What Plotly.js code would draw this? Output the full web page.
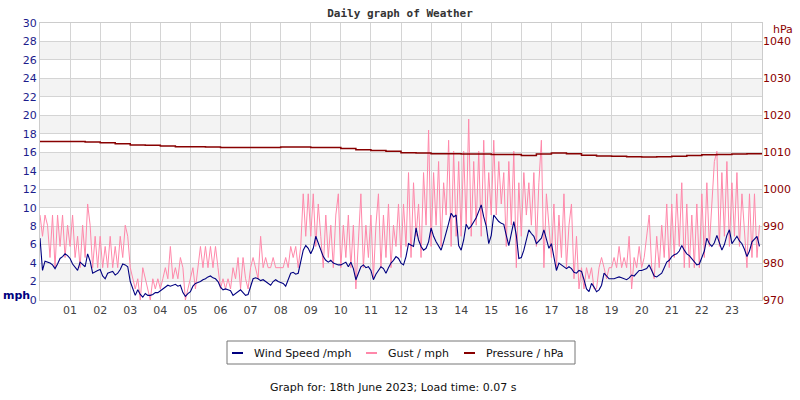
<!DOCTYPE html>
<html>
<head>
<meta charset="utf-8">
<script src="https://cdn.plot.ly/plotly-3.0.1.min.js"></script>
<style>
  body { margin: 0; background: #fff; }
  #chart { width: 800px; height: 400px; }
</style>
</head>
<body>
<div id="chart"></div>
<script>
// readings every 5 minutes, 12 per hour
const samplesPerHour = 12;

const windSpeed = [
  6.7, 3.2, 4.2, 4.1, 4.0, 3.8, 3.4, 3.9, 4.5, 4.7, 5.0, 4.8,
  4.5, 3.9, 3.6, 3.2, 4.1, 3.8, 3.6, 5.0, 4.2, 2.9, 3.1, 3.2,
  3.3, 2.6, 2.3, 2.9, 3.0, 3.1, 2.7, 2.9, 3.3, 3.9, 3.8, 3.6,
  2.0, 1.3, 0.5, 1.1, 0.6, 0.3, 0.7, 0.5, 0.5, 0.6, 0.8, 0.8,
  1.0, 1.1, 1.3, 1.6, 1.5, 1.6, 1.7, 1.5, 1.6, 0.8, 0.4, 0.7,
  0.9, 1.5, 1.8, 1.9, 2.0, 2.2, 2.3, 2.5, 2.6, 2.4, 2.3, 2.0,
  1.4, 1.1, 1.2, 1.1, 1.0, 0.5, 0.7, 0.9, 1.1, 0.8, 0.5, 0.6,
  1.6, 2.3, 2.4, 2.3, 2.1, 2.2, 2.0, 1.8, 1.6, 2.0, 2.2, 2.0,
  1.9, 1.8, 1.5, 2.2, 2.9, 3.0, 2.8, 2.9, 4.0, 5.4, 5.9, 5.6,
  5.0, 5.6, 6.9, 6.2, 5.4, 4.7, 4.3, 4.1, 4.3, 4.0, 3.9, 3.8,
  3.8, 4.0, 4.1, 3.6, 4.1, 3.4, 2.2, 2.9, 3.6, 3.8, 3.5, 3.6,
  3.2, 2.2, 2.8, 3.2, 3.6, 3.4, 2.9, 3.5, 4.0, 4.3, 4.7, 4.5,
  4.0, 3.8, 4.7, 6.1, 5.9, 5.8, 7.8, 6.5, 5.8, 5.4, 5.6, 6.3,
  7.8, 6.9, 6.3, 5.8, 5.4, 6.3, 7.2, 8.3, 9.4, 9.0, 9.2, 5.9,
  5.4, 6.5, 8.2, 7.7, 8.0, 8.5, 8.9, 9.6, 10.3, 9.0, 8.0, 6.1,
  7.0, 9.2, 8.8, 8.5, 8.3, 8.2, 7.0, 5.9, 7.2, 8.5, 7.0, 4.5,
  4.6, 5.4, 6.5, 7.6, 7.2, 6.9, 6.1, 6.4, 6.7, 7.6, 6.5, 5.6,
  6.1, 4.8, 3.2, 4.0, 3.8, 3.6, 3.4, 3.6, 3.4, 3.0, 2.9, 3.2,
  3.1, 2.2, 1.2, 0.9, 1.8, 1.4, 0.9, 1.1, 1.6, 2.9, 2.6, 2.3,
  2.3, 2.3, 2.4, 2.5, 2.4, 2.3, 2.2, 2.4, 2.7, 2.6, 2.9, 3.2,
  3.2, 3.3, 3.4, 3.8, 3.1, 2.6, 2.5, 2.7, 2.9, 3.5, 4.1, 4.3,
  4.7, 4.9, 5.0, 5.3, 5.9, 5.4, 5.0, 4.8, 4.5, 4.2, 3.8, 3.9,
  4.7, 5.3, 6.7, 6.1, 5.8, 6.2, 7.0, 6.2, 5.4, 6.0, 7.0, 7.6,
  6.1, 6.5, 6.9, 6.4, 6.1, 5.5, 4.7, 5.3, 6.3, 6.6, 6.9, 5.8
];

const gust = [
  9.2, 6.9, 9.2, 8.1, 4.6, 9.2, 3.5, 9.2, 5.8, 9.2, 4.6, 8.1,
  5.8, 9.2, 4.6, 6.9, 3.5, 8.1, 4.6, 10.4, 8.1, 3.5, 6.9, 3.5,
  6.9, 3.5, 5.8, 3.5, 6.9, 3.5, 5.8, 3.5, 6.9, 4.6, 8.1, 6.9,
  3.5, 2.3, 1.2, 2.3, 0.0, 3.5, 2.3, 1.2, 0.0, 2.3, 1.2, 2.3,
  1.2, 2.3, 3.5, 2.3, 5.8, 2.3, 3.5, 2.3, 4.6, 3.5, 0.0, 1.2,
  2.3, 3.5, 1.2, 3.5, 5.8, 3.5, 5.8, 3.5, 5.8, 3.5, 5.8, 3.5,
  1.2, 2.3, 1.2, 2.3, 1.2, 3.5, 2.3, 4.6, 1.2, 4.6, 2.3, 1.2,
  3.5, 4.6, 3.5, 2.3, 6.9, 3.5, 4.6, 3.5, 3.5, 4.6, 3.5, 3.5,
  3.5, 3.5, 4.6, 3.5, 5.8, 4.6, 5.8, 3.5, 5.8, 11.5, 6.9, 11.5,
  6.9, 11.5, 5.8, 10.4, 6.9, 3.5, 9.2, 4.6, 8.1, 3.5, 9.2, 11.5,
  3.5, 8.1, 4.6, 9.2, 3.5, 8.1, 1.2, 6.9, 11.5, 3.5, 8.1, 4.6,
  9.2, 2.3, 8.1, 11.5, 3.5, 9.2, 4.6, 10.4, 3.5, 8.1, 5.8, 10.4,
  4.6, 10.4, 5.8, 13.8, 4.6, 12.7, 6.9, 10.4, 4.6, 13.8, 8.1, 18.4,
  5.8, 13.8, 8.1, 15.0, 5.8, 12.7, 9.2, 17.3, 5.8, 16.1, 6.9, 15.0,
  6.9, 16.1, 8.1, 19.6, 6.9, 15.0, 8.1, 16.1, 6.9, 17.3, 8.1, 13.8,
  9.2, 17.3, 9.2, 15.0, 10.4, 13.8, 5.8, 15.0, 8.1, 16.1, 3.5, 12.7,
  6.9, 13.8, 9.2, 12.7, 8.1, 13.8, 5.8, 12.7, 17.3, 3.5, 11.5, 8.1,
  4.6, 10.4, 3.5, 9.2, 4.6, 11.5, 3.5, 8.1, 10.4, 2.3, 6.9, 1.2,
  3.5, 1.2, 3.5, 2.3, 3.5, 1.2, 1.2, 3.5, 4.6, 3.5, 2.3, 3.5,
  3.5, 4.6, 3.5, 5.8, 3.5, 4.6, 3.5, 6.9, 1.2, 4.6, 3.5, 5.8,
  3.5, 4.6, 6.9, 9.2, 3.5, 2.3, 6.9, 3.5, 8.1, 4.6, 10.4, 3.5,
  10.4, 4.6, 11.5, 5.8, 12.7, 3.5, 10.4, 3.5, 9.2, 3.5, 10.4, 3.5,
  11.5, 4.6, 12.7, 5.8, 10.4, 15.0, 16.1, 5.8, 13.8, 6.9, 15.0, 5.8,
  12.7, 6.9, 13.8, 5.8, 11.5, 6.9, 3.5, 11.5, 4.6, 11.5, 4.6, 8.1
];

// half-hourly pressure readings, 00:00 .. 24:00
const pressure = [
  1012.9, 1012.9, 1012.9, 1012.8, 1012.6, 1012.3, 1012.0, 1011.9,
  1011.7, 1011.5, 1011.5, 1011.4, 1011.3, 1011.3, 1011.3, 1011.3,
  1011.4, 1011.4, 1011.3, 1011.3, 1011.0, 1010.7, 1010.5, 1010.3,
  1009.9, 1009.8, 1009.6, 1009.6, 1009.5, 1009.5, 1009.4, 1009.4,
  1009.1, 1009.5, 1009.8, 1009.6, 1009.2, 1009.0, 1008.9, 1008.8,
  1008.7, 1008.8, 1008.9, 1009.1, 1009.3, 1009.4, 1009.5, 1009.6,
  1009.7
];

const hourTicks = [1,2,3,4,5,6,7,8,9,10,11,12,13,14,15,16,17,18,19,20,21,22,23];
const hourLabels = hourTicks.map(h => (h < 10 ? '0' : '') + h);
const mphTicks = [0,2,4,6,8,10,12,14,16,18,20,22,24,26,28,30];
const hpaTicks = [970,980,990,1000,1010,1020,1030,1040];
const shadedBands = [[2,4],[6,8],[10,12],[14,16],[18,20],[22,24],[26,28]];

const seriesNames = ['Wind Speed /mph', 'Gust / mph', 'Pressure / hPa'];
const seriesColors = ['#000080', '#ff88aa', '#880000'];

const windTimes = windSpeed.map((_, i) => i / samplesPerHour);
const gustTimes = gust.map((_, i) => i / samplesPerHour);
const pressureTimes = pressure.map((_, i) => i / 2);

const traces = [
  {x: gustTimes, y: gust, name: seriesNames[1], type: 'scatter', mode: 'lines',
   line: {color: seriesColors[1], width: 1}},
  {x: windTimes, y: windSpeed, name: seriesNames[0], type: 'scatter', mode: 'lines',
   line: {color: seriesColors[0], width: 1.1}},
  {x: pressureTimes, y: pressure, name: seriesNames[2], type: 'scatter', mode: 'lines',
   yaxis: 'y2', line: {color: seriesColors[2], width: 1.5, shape: 'hv'}}
];

// legend drawn by hand so the swatches stay short like the original
const px = v => (v - 40) / 722;   // page x -> paper x
const py = v => (300 - v) / 277;  // page y -> paper y
const legendSwatch = [232, 366, 464];
const legendText = [252, 386, 484];

const shapes = shadedBands.map(b => ({
  type: 'rect', xref: 'paper', yref: 'y', x0: 0, x1: 1, y0: b[0], y1: b[1],
  fillcolor: '#f3f3f3', line: {width: 0}, layer: 'below'
}));
shapes.push({type: 'rect', xref: 'paper', yref: 'paper',
  x0: px(227), x1: px(575), y0: py(364), y1: py(341),
  line: {color: '#777', width: 1}, fillcolor: 'rgba(0,0,0,0)'});
legendSwatch.forEach((s, i) => shapes.push({type: 'line', xref: 'paper', yref: 'paper',
  x0: px(s), x1: px(s + 11), y0: py(353), y1: py(353),
  line: {color: seriesColors[i], width: 2}}));

const annotations = [
  {text: '<b>mph</b>', xref: 'paper', yref: 'paper', x: -0.054, y: 0.015,
   xanchor: 'left', yanchor: 'middle', showarrow: false,
   font: {size: 11, color: '#000080'}},
  {text: 'hPa', xref: 'paper', yref: 'paper', x: 1.012, y: 0.975,
   xanchor: 'left', yanchor: 'middle', showarrow: false,
   font: {size: 11, color: '#8b0000'}},
  {text: 'Graph for: 18th June 2023; Load time: 0.07 s', xref: 'paper', yref: 'paper',
   x: 0.49, y: -0.315, xanchor: 'center', yanchor: 'middle', showarrow: false,
   font: {size: 11, color: '#111'}}
];
legendText.forEach((t, i) => annotations.push({text: seriesNames[i],
  xref: 'paper', yref: 'paper', x: px(t), y: py(353), xanchor: 'left', yanchor: 'middle',
  showarrow: false, font: {size: 11, color: '#111'}}));

const layout = {
  width: 800, height: 400,
  margin: {l: 40, r: 38, t: 23, b: 100},
  paper_bgcolor: '#fff', plot_bgcolor: '#fff',
  font: {family: 'DejaVu Sans, Verdana, sans-serif', size: 11, color: '#444'},
  title: {
    text: '<b>Daily graph of Weather</b>',
    font: {family: 'DejaVu Sans Mono, monospace', size: 11, color: '#333'},
    x: 0.5, xanchor: 'center', y: 0.968, yanchor: 'middle'
  },
  xaxis: {
    range: [0, 24], tickvals: hourTicks, ticktext: hourLabels,
    showgrid: true, gridcolor: '#d4d4d4', zeroline: false,
    showline: true, mirror: true, linecolor: '#cccccc', linewidth: 1,
    ticks: '', tickfont: {size: 11, color: '#444'}
  },
  yaxis: {
    range: [0, 30], tickvals: mphTicks,
    showgrid: true, gridcolor: '#d4d4d4', zeroline: false,
    showline: true, mirror: true, linecolor: '#cccccc', linewidth: 1,
    ticks: '', tickfont: {size: 11, color: '#1c1c8c'}
  },
  yaxis2: {
    range: [970, 1045], tickvals: hpaTicks, overlaying: 'y', side: 'right',
    showgrid: false, zeroline: false, ticks: '',
    tickfont: {size: 11, color: '#8b0000'}
  },
  shapes: shapes,
  showlegend: false,
  annotations: annotations
};

Plotly.newPlot('chart', traces, layout, {staticPlot: true});
</script>
</body>
</html>
